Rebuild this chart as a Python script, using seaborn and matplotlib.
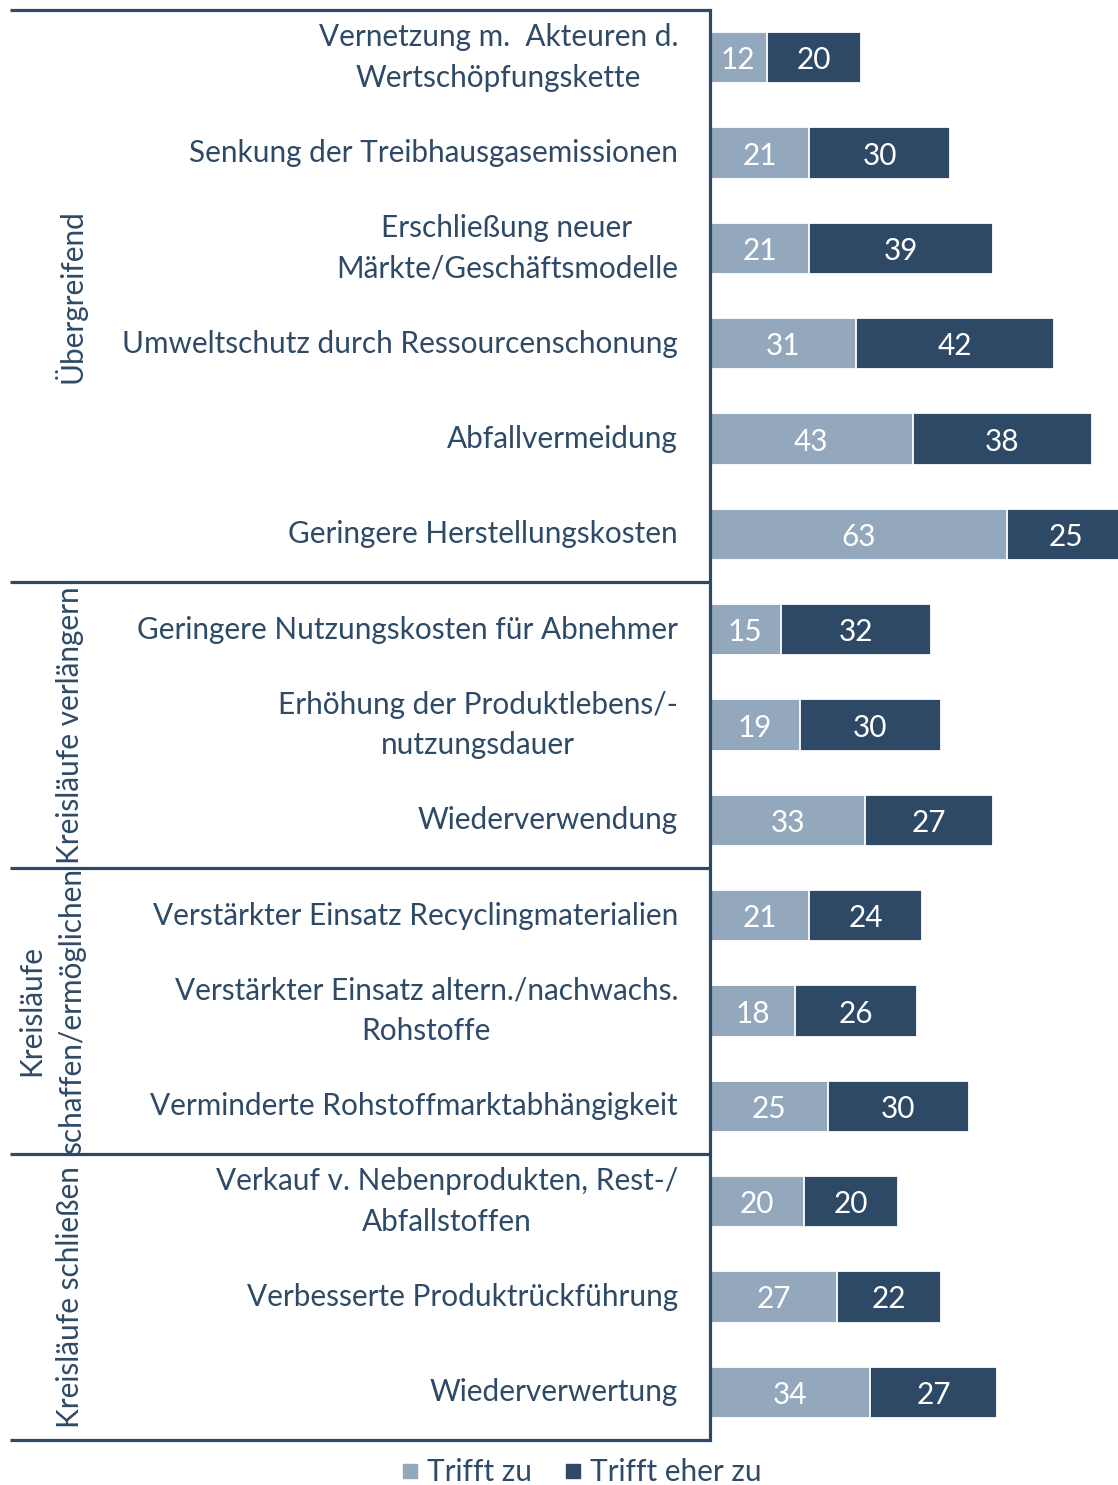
import matplotlib
matplotlib.use("Agg")
import matplotlib.pyplot as plt
import matplotlib.transforms as mtrans
from matplotlib.lines import Line2D
import seaborn as sns
import pandas as pd

categories = [
    "Vernetzung m.  Akteuren d.\nWertschöpfungskette",
    "Senkung der Treibhausgasemissionen",
    "Erschließung neuer\nMärkte/Geschäftsmodelle",
    "Umweltschutz durch Ressourcenschonung",
    "Abfallvermeidung",
    "Geringere Herstellungskosten",
    "Geringere Nutzungskosten für Abnehmer",
    "Erhöhung der Produktlebens/-\nnutzungsdauer",
    "Wiederverwendung",
    "Verstärkter Einsatz Recyclingmaterialien",
    "Verstärkter Einsatz altern./nachwachs.\nRohstoffe",
    "Verminderte Rohstoffmarktabhängigkeit",
    "Verkauf v. Nebenprodukten, Rest-/\nAbfallstoffen",
    "Verbesserte Produktrückführung",
    "Wiederverwertung",
]
trifft_zu = [12, 21, 21, 31, 43, 63, 15, 19, 33, 21, 18, 25, 20, 27, 34]
trifft_eher_zu = [20, 30, 39, 42, 38, 25, 32, 30, 27, 24, 26, 30, 20, 22, 27]
groups = ["Übergreifend", "Kreisläufe verlängern", "Kreisläufe\nschaffen/ermöglichen", "Kreisläufe schließen"]
group_sizes = [6, 3, 3, 3]
series_names = ["Trifft zu", "Trifft eher zu"]

LIGHT = "#93A8BC"
DARK = "#2E4965"
TXT = "#2E4A66"
FONT = ["Lato", "DejaVu Sans"]
FS = 21.4

sns.set_theme(style="white")
plt.rcParams["font.family"] = FONT

df = pd.DataFrame({
    "cat": categories,
    "a": trifft_zu,
    "total": [a + b for a, b in zip(trifft_zu, trifft_eher_zu)],
})

W, H = 1118, 1485
fig = plt.figure(figsize=(W / 100, H / 100), dpi=100)
ax = fig.add_axes([710 / W, (H - 1440) / H, (W - 710) / W, (1440 - 10) / H])

sns.barplot(data=df, y="cat", x="total", color=DARK, orient="h", width=0.535,
            edgecolor="white", linewidth=1.3, ax=ax, saturation=1)
sns.barplot(data=df, y="cat", x="a", color=LIGHT, orient="h", width=0.535,
            edgecolor="white", linewidth=1.3, ax=ax, saturation=1)

ax.set_xlim(0, 86.6)
ax.set_ylim(len(categories) - 0.5, -0.5)
ax.set_xlabel("")
ax.set_ylabel("")
ax.set_xticks([])

for s in ["top", "right", "bottom"]:
    ax.spines[s].set_visible(False)
ax.spines["left"].set_color(DARK)
ax.spines["left"].set_linewidth(2.3)

ax.tick_params(axis="y", length=0, pad=23, labelsize=FS, labelcolor=TXT)
for lab in ax.get_yticklabels():
    lab.set_multialignment("center")
    lab.set_linespacing(1.55)
    lab.set_verticalalignment("center")

# value labels
for i, (a, b) in enumerate(zip(trifft_zu, trifft_eher_zu)):
    ax.text(a / 2, i, str(a), ha="center", va="center_baseline", color="white", fontsize=FS)
    ax.text(a + b / 2, i, str(b), ha="center", va="center_baseline", color="white", fontsize=FS)

# group separators and labels
tr_line = mtrans.blended_transform_factory(fig.transFigure, ax.transData)
x0 = 10 / W
x1 = 710 / W
bounds = [-0.5]
for n in group_sizes:
    bounds.append(bounds[-1] + n)
for yb in bounds:
    ax.add_line(Line2D([x0, x1], [yb, yb], transform=tr_line, color=DARK,
                       linewidth=2.3, clip_on=False, solid_capstyle="butt"))
for g, lo, hi in zip(groups, bounds[:-1], bounds[1:]):
    xc = 70 / W if "\n" not in g else 52 / W
    ax.text(xc, (lo + hi) / 2, g, transform=tr_line, rotation=90, ha="center",
            va="center", color=TXT, fontsize=FS, multialignment="center",
            linespacing=1.55)

handles = [Line2D([0], [0], marker="s", linestyle="", markersize=10, color=c)
           for c in (LIGHT, DARK)]
leg = fig.legend(handles, series_names, loc="center", bbox_to_anchor=(580 / W, 13 / H),
                 ncol=2, frameon=False, fontsize=FS, handletextpad=0.15,
                 columnspacing=1.0, handlelength=0.8)
for t in leg.get_texts():
    t.set_color(TXT)

fig.savefig("out.png", dpi=100)
